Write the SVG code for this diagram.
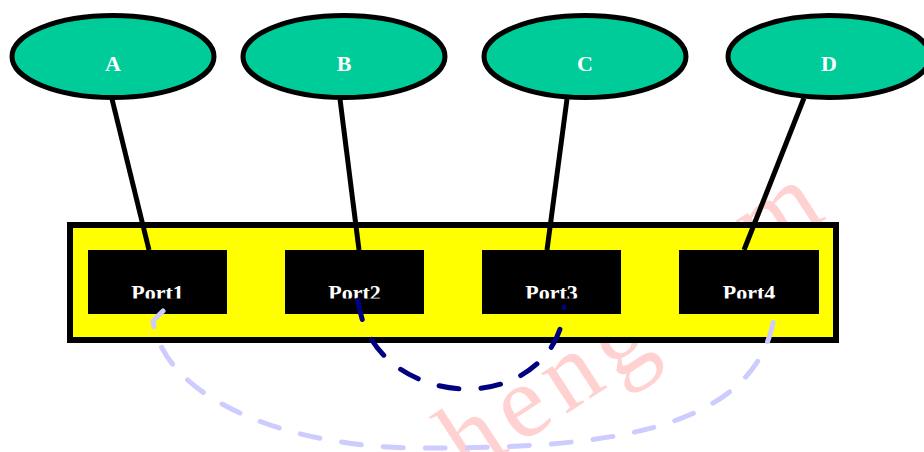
<svg xmlns="http://www.w3.org/2000/svg" width="924" height="452" viewBox="0 0 924 452">
  <style>
    .host ellipse { fill: #00cc99; stroke: #000; stroke-width: 5; }
    .host text, .port text { font-family: "Liberation Serif", "Times New Roman", serif; font-weight: bold; font-size: 22px; fill: #fff; text-anchor: middle; }
    .port rect { fill: #000; }
    .link { stroke: #000; stroke-width: 5; fill: none; }
    .dash { fill: none; stroke-width: 5; stroke-linecap: round; stroke-linejoin: round; stroke-dasharray: 20 22; }
    .mark { font-family: "Liberation Serif", "Times New Roman", serif; font-size: 104px; letter-spacing: 9px; fill: #ff0000; fill-opacity: 0.18; }
  </style>
  <defs>
    <clipPath id="portClip">
      <rect x="80" y="245" width="750" height="53.5"/>
    </clipPath>
  </defs>
  <rect width="924" height="452" fill="#fff"/>

  <!-- faint background watermark -->
  <g id="watermark" transform="translate(467.5,478) rotate(-33)">
    <text class="mark" x="0" y="0">heng</text>
    <text class="mark" x="363" y="-22">m</text>
  </g>

  <!-- switch body -->
  <g id="switch">
    <rect x="70" y="225" width="766" height="115" fill="#ffff00" stroke="#000" stroke-width="6"/>
  </g>

  <g id="port1" class="port">
    <rect x="88" y="250" width="139" height="64"/>
    <text x="157.5" y="300" clip-path="url(#portClip)">Port1</text>
  </g>
  <g id="port2" class="port">
    <rect x="285" y="250" width="139" height="64"/>
    <text x="354.5" y="300" clip-path="url(#portClip)">Port2</text>
  </g>
  <g id="port3" class="port">
    <rect x="482" y="250" width="139" height="64"/>
    <text x="551.5" y="300" clip-path="url(#portClip)">Port3</text>
  </g>
  <g id="port4" class="port">
    <rect x="679" y="250" width="140" height="64"/>
    <text x="749" y="300" clip-path="url(#portClip)">Port4</text>
  </g>

  <g id="A" class="host">
    <ellipse cx="113" cy="56.5" rx="101" ry="41"/>
    <text x="113" y="71">A</text>
  </g>
  <g id="B" class="host">
    <ellipse cx="344" cy="56.5" rx="101" ry="41"/>
    <text x="344" y="71">B</text>
  </g>
  <g id="C" class="host">
    <ellipse cx="585" cy="56.5" rx="101" ry="41"/>
    <text x="585" y="71">C</text>
  </g>
  <g id="D" class="host">
    <ellipse cx="829" cy="56.5" rx="101" ry="41"/>
    <text x="829" y="71">D</text>
  </g>

  <!-- connectors -->
  <g id="edges">
    <line class="link" x1="112" y1="99" x2="149" y2="250"/>
    <line class="link" x1="340" y1="99" x2="359" y2="250"/>
    <line class="link" x1="567" y1="99" x2="547" y2="250"/>
    <line class="link" x1="804" y1="98" x2="744" y2="250"/>
    <path class="dash" stroke="#ccccff" d="M163,311 L153,321 C165,400 290,448 420,448 C580,448 760,440 775,311"/>
    <path class="dash" stroke="#000080" d="M358,300 C365,360 420,390 470,389 C520,388 562,355 564,307"/>
  </g>
</svg>
